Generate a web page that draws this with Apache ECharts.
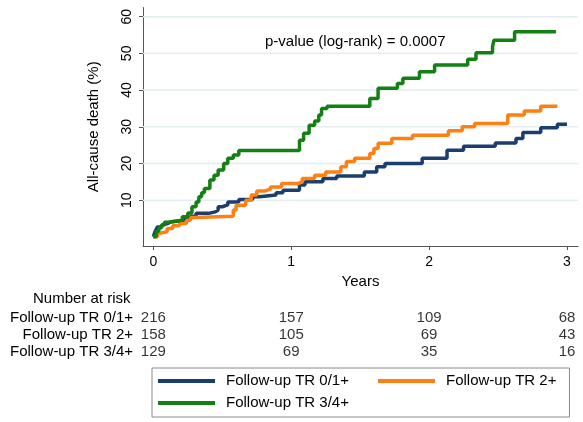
<!DOCTYPE html>
<html><head><meta charset="utf-8">
<script src="https://cdn.jsdelivr.net/npm/echarts@6/dist/echarts.min.js"></script>
<style>html,body{margin:0;padding:0;background:#fff}#c{width:583px;height:422px}</style>
</head><body><div id="c"></div>
<script>
const seriesNames = ['Follow-up TR 0/1+', 'Follow-up TR 2+', 'Follow-up TR 3/4+'];
const seriesColors = ['#1a3f6e', '#ff8012', '#128012'];

const tr01Years = [0, 0.01, 0.02, 0.03, 0.05, 0.07, 0.10, 0.13, 0.22, 0.27, 0.31, 0.40, 0.45, 0.47, 0.50, 0.54, 0.62, 0.72, 0.77, 0.89, 0.94, 1.06, 1.10, 1.23, 1.33, 1.53, 1.62, 1.68, 1.95, 2.13, 2.25, 2.48, 2.63, 2.68, 2.81, 2.93, 3.00];
const tr01Death = [0, 1.2, 2.0, 2.7, 3.2, 3.6, 4.1, 4.4, 5.0, 5.6, 6.4, 6.8, 7.3, 8.2, 8.7, 9.5, 10.2, 10.9, 11.4, 12.0, 12.7, 14.1, 15.0, 15.9, 16.6, 17.7, 19.1, 20.0, 21.4, 23.6, 24.7, 25.6, 26.8, 28.4, 29.7, 30.7, 30.7];

const tr2Years = [0, 0.03, 0.05, 0.10, 0.14, 0.19, 0.24, 0.27, 0.30, 0.58, 0.60, 0.67, 0.71, 0.75, 0.81, 0.85, 0.93, 1.05, 1.08, 1.17, 1.25, 1.36, 1.40, 1.46, 1.57, 1.60, 1.63, 1.73, 1.88, 2.14, 2.24, 2.33, 2.57, 2.69, 2.81, 2.93];
const tr2Death = [0, 1.0, 1.4, 2.3, 3.0, 3.6, 4.5, 5.3, 5.6, 7.3, 8.6, 10.0, 11.4, 12.5, 13.0, 13.6, 14.5, 15.0, 15.9, 16.8, 17.7, 19.1, 20.5, 21.4, 22.7, 24.1, 25.5, 26.8, 27.7, 28.9, 30.0, 30.9, 33.2, 34.3, 35.6, 35.6];

const tr34Years = [0, 0.02, 0.04, 0.06, 0.08, 0.11, 0.21, 0.25, 0.28, 0.31, 0.33, 0.35, 0.37, 0.41, 0.44, 0.47, 0.51, 0.54, 0.58, 0.62, 1.06, 1.09, 1.13, 1.17, 1.20, 1.22, 1.26, 1.57, 1.63, 1.77, 1.81, 1.93, 2.04, 2.28, 2.34, 2.46, 2.47, 2.62, 2.92];
const tr34Death = [0, 1.5, 2.5, 3.3, 4.0, 4.5, 5.5, 6.5, 8.2, 9.5, 10.9, 12.0, 13.2, 15.5, 16.8, 18.2, 20.0, 21.4, 22.3, 23.5, 26.3, 28.2, 30.4, 31.6, 33.2, 35.0, 35.6, 37.7, 40.5, 41.8, 43.2, 45.0, 46.8, 48.4, 50.2, 51.8, 53.6, 55.9, 55.9];

const yTicks = [10, 20, 30, 40, 50, 60];
const xTicks = [0, 1, 2, 3];

const riskYears = [0, 1, 2, 3];
const riskTR01 = [216, 157, 109, 68];
const riskTR2 = [158, 105, 69, 43];
const riskTR34 = [129, 69, 35, 16];

const X_MIN = -0.075, X_MAX = 3.08, Y_MIN = -2.5, Y_MAX = 62.5;
const FONT = '"Liberation Sans", Arial, Helvetica, sans-serif';
const zip = (a, b) => a.map((v, i) => [v, b[i]]);
const curves = [zip(tr01Years, tr01Death), zip(tr2Years, tr2Death), zip(tr34Years, tr34Death)];
const riskRows = [riskTR01, riskTR2, riskTR34];
const riskData = [];
riskRows.forEach((row, r) => row.forEach((n, i) => riskData.push([riskYears[i], seriesNames[r], n])));

const gridSeries = yTicks.map(v => ({
  type: 'line', name: '__grid' + v, xAxisIndex: 0, yAxisIndex: 0, silent: true, z: 1,
  data: [[X_MIN, v], [X_MAX, v]], showSymbol: false, symbol: 'none',
  lineStyle: {color: '#e3edf0', width: 1.5}, emphasis: {disabled: true}, tooltip: {show: false}
}));

const chart = echarts.init(document.getElementById('c'), null, {renderer: 'canvas'});
const axisGray = '#555555';
chart.setOption({
  animation: false,
  backgroundColor: '#ffffff',
  textStyle: {fontFamily: FONT},
  grid: [
    {left: 143, right: 5, top: 7.5, height: 238.5, containLabel: false, outerBoundsMode: 'none'},
    {left: 143, right: 5, top: 309.5, height: 51, containLabel: false, outerBoundsMode: 'none'}
  ],
  xAxis: [
    {
      gridIndex: 0, type: 'value', min: X_MIN, max: X_MAX,
      name: 'Years', nameLocation: 'middle', nameGap: 23,
      nameTextStyle: {fontSize: 15, color: '#000', fontFamily: FONT},
      axisLine: {show: true, onZero: false, lineStyle: {color: axisGray, width: 1}},
      axisTick: {show: true, inside: false, length: 4, customValues: xTicks, lineStyle: {color: axisGray}},
      axisLabel: {customValues: xTicks, fontSize: 14, color: '#000', margin: 9, fontFamily: FONT},
      splitLine: {show: false}
    },
    {
      gridIndex: 1, type: 'value', min: X_MIN, max: X_MAX,
      axisLine: {show: false}, axisTick: {show: false}, axisLabel: {show: false}, splitLine: {show: false}
    }
  ],
  yAxis: [
    {
      gridIndex: 0, type: 'value', min: Y_MIN, max: Y_MAX,
      name: 'All-cause death (%)', nameLocation: 'middle', nameGap: 42, nameRotate: 90,
      nameTextStyle: {fontSize: 15, color: '#000', fontFamily: FONT},
      axisLine: {show: true, onZero: false, lineStyle: {color: axisGray, width: 1}},
      axisTick: {show: true, inside: false, length: 4, customValues: yTicks, lineStyle: {color: axisGray}},
      axisLabel: {customValues: yTicks, rotate: 90, fontSize: 14, color: '#000', margin: 9, fontFamily: FONT},
      splitLine: {show: false}
    },
    {
      gridIndex: 1, type: 'category', inverse: true, data: seriesNames,
      axisLine: {show: false}, axisTick: {show: false}, splitLine: {show: false},
      axisLabel: {interval: 0, hideOverlap: false, fontSize: 15, color: '#000', margin: 10, fontFamily: FONT}
    }
  ],
  legend: {
    left: 152, top: 368, width: 400, orient: 'horizontal',
    padding: [4, 13, 5, 6], itemGap: 4,
    borderColor: '#8a8a8a', borderWidth: 1, borderRadius: 0,
    icon: 'rect', itemWidth: 57, itemHeight: 4,
    textStyle: {fontSize: 15, color: '#000', lineHeight: 18, padding: [0, 0, 0, 6], fontFamily: FONT},
    data: [
      {name: seriesNames[0], textStyle: {width: 148}},
      {name: seriesNames[1]},
      {name: seriesNames[2]}
    ]
  },
  graphic: [
    {type: 'text', left: 265, top: 34, style: {text: 'p-value (log-rank) = 0.0007', fontSize: 15, fill: '#000', font: '15px ' + FONT}},
    {type: 'text', left: 33, top: 291, style: {text: 'Number at risk', fontSize: 15, fill: '#000', font: '15px ' + FONT}}
  ],
  series: [
    ...gridSeries,
    ...curves.map((d, i) => ({
      type: 'line', name: seriesNames[i], xAxisIndex: 0, yAxisIndex: 0,
      step: 'end', data: d, showSymbol: false, symbol: 'none', z: 3 + i,
      lineStyle: {color: seriesColors[i], width: 3.5}, itemStyle: {color: seriesColors[i]}
    })),
    {
      type: 'scatter', name: '__risk', xAxisIndex: 1, yAxisIndex: 1, data: riskData,
      symbolSize: 0, silent: true,
      label: {show: true, position: 'inside', fontSize: 15, color: '#000', fontFamily: FONT,
              formatter: p => String(p.value[2])}
    }
  ]
});
</script></body></html>
